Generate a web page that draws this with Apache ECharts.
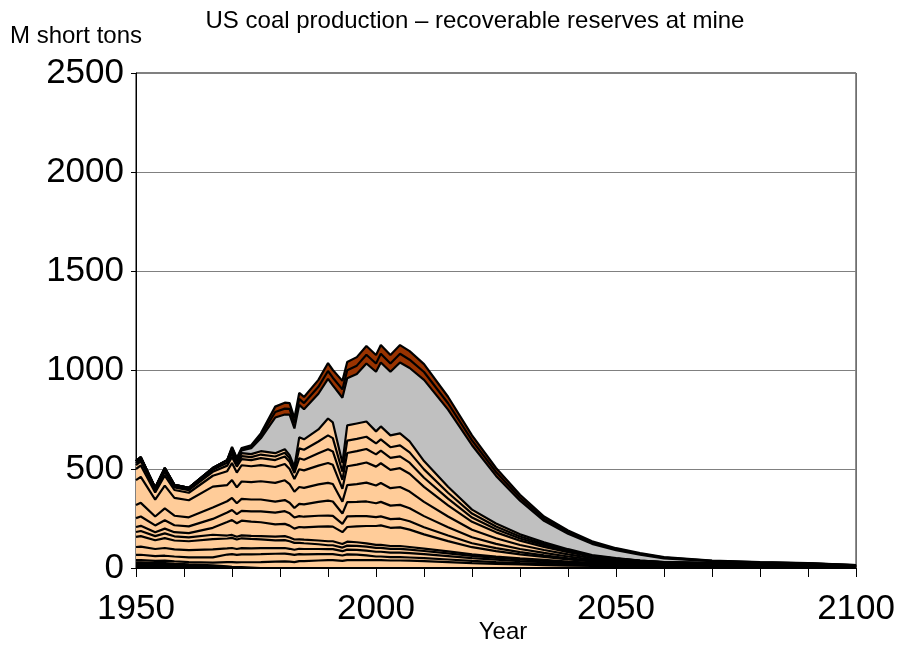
<!DOCTYPE html>
<html>
<head>
<meta charset="utf-8">
<script src="https://cdn.jsdelivr.net/npm/echarts@6/dist/echarts.min.js"></script>
<style>
  html, body { margin: 0; padding: 0; background: #fff; }
  #chart { width: 898px; height: 645px; }
</style>
</head>
<body>
<div id="chart"></div>
<script>
// years on the x axis (shared by every layer)
var years = [1950,1951,1954,1956,1958,1961,1966,1969,1970,1971,
  1972,1974,1976,1979,1981,1982,1983,1984,1985,1988,
  1990,1991,1993,1994,1996,1998,2000,2001,2003,2005,
  2007,2010,2015,2020,2025,2030,2035,2040,2045,2050,
  2055,2060,2070,2080,2090,2100];

// stacked layers, bottom to top (M short tons)
var layer0 = [28,28,25,25,22,18,13,8,6,5, 4,2,0,0,0,0,0,0,0,0, 0,0,0,0,0,0,0,0,0,0, 0,0,0,0,0,0,0,0,0,0, 0,0,0,0,0,0];
var layer1 = [12,12,11,12,12,12,14,22,24,23, 25,27,30,32,33,32,30,35,35,38, 40,40,36,40,40,40,40,40,38,38, 37,35,30,25,21,18,15,12,10,9, 8,8,7,6,5,3.5];
var layer2 = [26,27,24,25,24,24,27,38,40,38, 40,40,40,40,40,38,36,35,34,32, 30,30,27,29,28,24,18,18,17,17, 16,15,13,11,9,7,6,5,4,3, 3,2,2,2,1.5,1];
var layer3 = [40,41,36,39,36,36,40,31,31,30, 31,30,30,28,28,27,26,27,27,26, 25,25,22,24,24,24,24,24,23,23, 22,20,17,14,12,10,8,6,5,4, 3,3,2,2,1.5,1];
var layer4 = [51,53,44,50,45,45,52,50,51,48, 50,48,45,40,40,38,35,30,29,24, 20,20,18,20,20,20,20,20,19,19, 18,16,14,11,9,8,7,5,4,3, 3,2,2,1.5,1,0.8];
var layer5 = [25,26,21,24,21,20,22,15,15,14, 15,15,16,18,20,19,17,18,18,19, 20,20,18,20,18,16,15,15,14,14, 13,12,10,8,7,6,5,4,3,3, 2,2,2,1.5,1,0.7];
var layer6 = [25,26,20,24,21,21,35,68,75,68, 74,72,70,62,62,60,55,62,62,70, 75,74,60,74,80,88,95,98,92,94, 88,72,52,36,27,20,15,11,7,5, 4,3,2,1.5,1,0.7];
var layer7 = [45,47,34,42,35,34,45,48,51,46, 50,52,55,60,64,62,56,55,54,55, 55,54,42,54,52,50,45,46,44,44, 42,36,28,20,15,11,8,6,4,3, 2,2,2,1.5,1,0.7];
var layer8 = [66,69,45,60,48,46,58,57,61,55, 60,60,60,55,56,54,48,62,62,70, 75,73,52,72,72,74,70,73,68,70, 66,56,42,30,22,16,12,9,6,5, 3,2,2,1.5,1,0.6];
var layer9 = [126,131,85,115,90,86,105,82,90,80, 88,88,92,95,100,94,82,85,84,88, 90,88,60,86,90,95,90,95,88,90, 84,72,54,38,28,20,15,11,7,5, 4,2,2,1,1,0.5];
var layer10 = [56,58,36,51,40,38,55,70,86,75, 82,80,82,80,82,76,65,90,88,95, 100,97,65,95,98,102,95,100,93,95, 90,76,56,40,30,22,16,11,7,5, 3,2,1,1,0.7,0.3];
var layer11 = [20,21,12,17,13,13,20,28,31,30, 31,31,35,35,38,36,30,55,54,62, 70,68,45,67,68,68,62,64,60,60, 56,46,34,22,16,11,8,5,3,2, 1,1,0.5,0.3,0.1,0.1];
var layer12 = [10,11,6,11,7,6,10,14,15,14, 15,15,18,18,19,18,15,50,50,60, 70,67,42,62,62,62,55,57,54,55, 52,42,30,20,14,10,7,5,2,1, 1,0.5,0.3,0.1,0.1,0.05];
var layer13 = [10,10,6,10,6,6,9,14,14,14, 15,15,17,17,18,16,15,56,53,61, 85,79,43,77,78,77,61,65,60,61, 56,42,30,20,15,11,8,5,3,2, 1,0.5,0.2,0.1,0.1,0.05];
var grayLayer = [0,0,0,0,0,0,0,0,12,8, 14,30,65,180,175,205,195,164,152,180, 200,187,330,238,250,293,301,323,321,358, 370,410,390,325,240,170,108,78,57,40, 29,19,9,7,8,4];
var brown1 = [0,0,0,0,0,0,0,0,5,4, 6,8,13,28,30,29,26,30,31,35, 40,39,42,41,42,44,42,44,42,44, 42,40,32,25,20,15,11,9,7,5, 4,3,2,1.5,1,0.5];
var brown2 = [0,0,0,0,0,0,0,0,5,4, 6,7,12,27,30,29,26,30,31,35, 40,39,43,41,43,44,43,44,43,44, 43,40,33,25,20,15,11,8,6,5, 4,3,2,1.5,1,0.5];

var layers = [layer0, layer1, layer2, layer3, layer4, layer5, layer6, layer7,
  layer8, layer9, layer10, layer11, layer12, layer13, grayLayer, brown1, brown2];

var font = "'Liberation Sans', Arial, sans-serif";

function fillColor(i) {
  if (i === 0) return '#000000';
  if (i === 14) return '#C0C0C0';
  if (i >= 15) return '#993300';
  return '#FFCC99';
}

function buildSeries() {
  // running totals so each layer's top edge can be filled down to the axis;
  // upper layers are drawn first and the lower ones painted over them
  var running = years.map(function () { return 0; });
  var edges = [];
  layers.forEach(function (arr) {
    running = running.map(function (s, k) { return s + arr[k]; });
    edges.push(running.slice());
  });

  var list = [];
  for (var i = layers.length - 1; i >= 0; i--) {
    var edge = edges[i];
    list.push({
      type: 'line',
      symbol: 'none',
      data: years.map(function (y, k) { return [y, edge[k]]; }),
      lineStyle: { color: '#000', width: 2.2 },
      areaStyle: { color: fillColor(i), opacity: 1, origin: 'start' },
      z: 2
    });
  }
  return list;
}

var chart = echarts.init(document.getElementById('chart'), null, { renderer: 'canvas' });

var option = {
  animation: false,
  backgroundColor: '#fff',
  grid: {
    left: 136, right: 39, top: 73, bottom: 77,
    show: true, borderColor: '#000', borderWidth: 1, backgroundColor: 'transparent'
  },
  graphic: [
    { type: 'text', style: { text: 'US coal production \u2013 recoverable reserves at mine', x: 475, y: 21, font: '24px ' + font, fill: '#000', textAlign: 'center', textVerticalAlign: 'middle' } },
    { type: 'text', style: { text: 'M short tons', x: 10, y: 36, font: '24px ' + font, fill: '#000', textAlign: 'left', textVerticalAlign: 'middle' } },
    { type: 'text', style: { text: 'Year', x: 503, y: 632, font: '24px ' + font, fill: '#000', textAlign: 'center', textVerticalAlign: 'middle' } }
  ],
  xAxis: {
    type: 'value',
    min: 1950, max: 2100, interval: 10,
    axisLine: { show: true, onZero: false, lineStyle: { color: '#000', width: 1 } },
    axisTick: { show: true, inside: false, length: 9, lineStyle: { color: '#000' } },
    axisLabel: {
      margin: 24, fontSize: 35, fontFamily: font, color: '#000',
      formatter: function (v) { return v % 50 === 0 ? String(v) : ''; }
    },
    splitLine: { show: false }
  },
  yAxis: {
    type: 'value',
    min: 0, max: 2500, interval: 500,
    axisLine: { show: true, lineStyle: { color: '#000', width: 1 } },
    axisTick: { show: true, length: 5, lineStyle: { color: '#000' } },
    axisLabel: { margin: 12, fontSize: 35, fontFamily: font, color: '#000', formatter: function (v) { return String(v); } },
    splitLine: { show: true, lineStyle: { color: '#808080', width: 1 } }
  },
  series: buildSeries()
};

chart.setOption(option);
</script>
</body>
</html>
